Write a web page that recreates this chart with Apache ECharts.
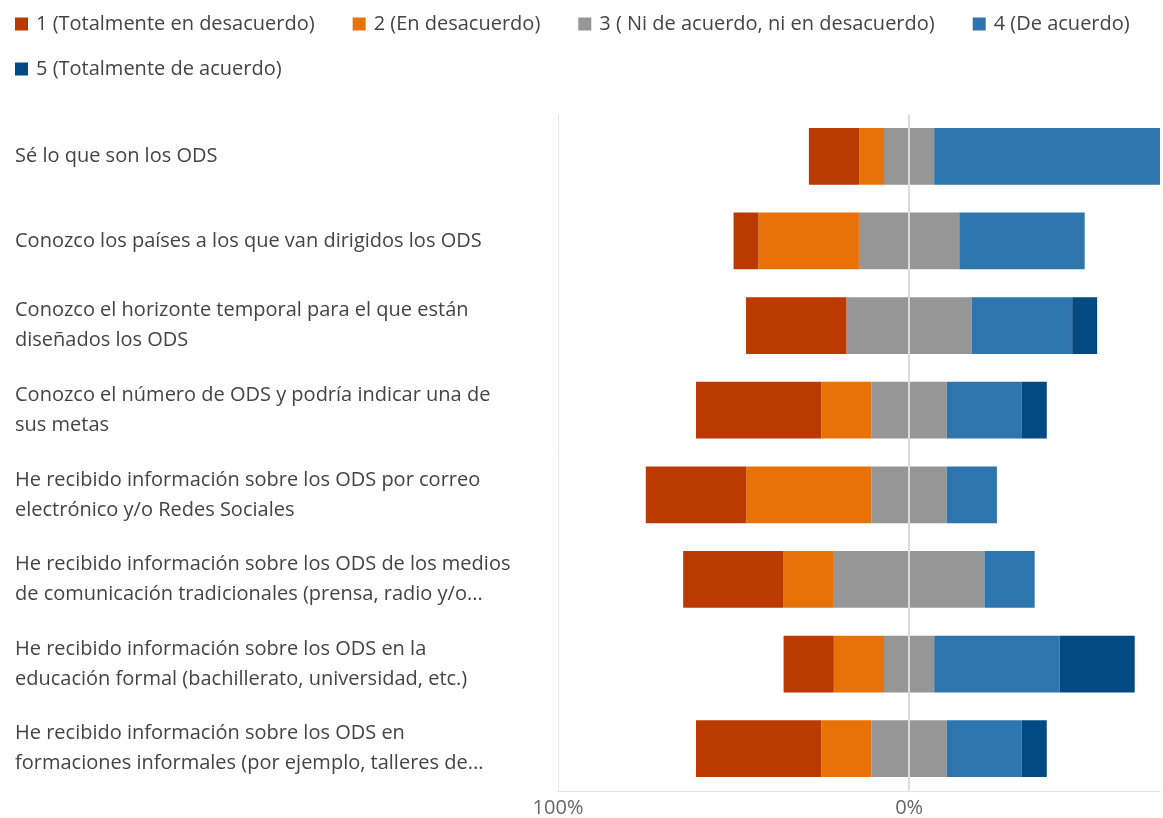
<!DOCTYPE html>
<html>
<head>
<meta charset="utf-8">
<script src="https://cdn.jsdelivr.net/npm/echarts@6/dist/echarts.min.js"></script>
<style>
html,body{margin:0;padding:0;background:#fff;}
#chart{width:1163px;height:818px;}
</style>
</head>
<body>
<div id="chart"></div>
<script>
var categories = [
  "Sé lo que son los ODS",
  "Conozco los países a los que van dirigidos los ODS",
  "Conozco el horizonte temporal para el que están\ndiseñados los ODS",
  "Conozco el número de ODS y podría indicar una de\nsus metas",
  "He recibido información sobre los ODS por correo\nelectrónico y/o Redes Sociales",
  "He recibido información sobre los ODS de los medios\nde comunicación tradicionales (prensa, radio y/o...",
  "He recibido información sobre los ODS en la\neducación formal (bachillerato, universidad, etc.)",
  "He recibido información sobre los ODS en\nformaciones informales (por ejemplo, talleres de..."
];
var seriesNames = [
  "1 (Totalmente en desacuerdo)",
  "2 (En desacuerdo)",
  "3 ( Ni de acuerdo, ni en desacuerdo)",
  "4 (De acuerdo)",
  "5 (Totalmente de acuerdo)"
];
var totalDesacuerdo = [14.3, 7.1, 28.6, 35.7, 28.6, 28.6, 14.3, 35.7];
var enDesacuerdo    = [7.1, 28.6, 0, 14.3, 35.7, 14.3, 14.3, 14.3];
var neutral         = [14.3, 28.6, 35.7, 21.4, 21.4, 42.9, 14.3, 21.4];
var deAcuerdo       = [64.3, 35.7, 28.6, 21.4, 14.3, 14.3, 35.7, 21.4];
var totalAcuerdo    = [0, 0, 7.1, 7.1, 0, 0, 21.4, 7.1];
var xTickLabels = ["100%", "0%"];

var colors = ["#BA3A02", "#E97208", "#969696", "#2E75AD", "#024A84"];
var FONT = "'Segoe UI', 'Open Sans', sans-serif";

function neg(a){ return a.map(function(v){ return -v; }); }
function half(a, s){ return a.map(function(v){ return s * v / 2; }); }

function bar(name, data, color, extra){
  var s = {
    name: name, type: 'bar', stack: 'likert', data: data,
    barCategoryGap: '33%',
    itemStyle: { color: color },
    emphasis: { disabled: true }
  };
  if (extra) for (var k in extra) s[k] = extra[k];
  return s;
}

var legendCommon = {
  left: 10, icon: 'rect', itemWidth: 13, itemHeight: 13, itemGap: 38,
  textStyle: { fontFamily: FONT, fontSize: 20, color: '#444', padding: [0, 0, 0, 3] }
};

var chart = echarts.init(document.getElementById('chart'), null, { renderer: 'canvas' });
chart.setOption({
  animation: false,
  color: colors,
  legend: [
    Object.assign({}, legendCommon, { top: 9, data: seriesNames.slice(0, 4) }),
    Object.assign({}, legendCommon, { top: 54, data: seriesNames.slice(4) })
  ],
  grid: { left: 558, right: 3, top: 114, bottom: 27, containLabel: false },
  xAxis: {
    type: 'value', min: -100, max: function(v){ return v.max; }, interval: 100,
    axisLine: { show: true, lineStyle: { color: '#e2e2e2' } },
    axisTick: { show: false },
    splitLine: { show: true, showMaxLine: false, lineStyle: { color: '#e6e6e6' } },
    axisLabel: {
      margin: 7, fontFamily: FONT, fontSize: 20, color: '#666',
      formatter: function(v){ return v === -100 ? xTickLabels[0] : (v === 0 ? xTickLabels[1] : ''); },
      showMaxLabel: false
    }
  },
  yAxis: {
    type: 'category', inverse: true, data: categories,
    axisLine: { show: false }, axisTick: { show: false }, splitLine: { show: false },
    axisLabel: { align: 'left', margin: 543, fontFamily: FONT, fontSize: 20, lineHeight: 30, color: '#444', padding: [10, 0, 0, 0] }
  },
  series: [
    bar(seriesNames[2], half(neutral, -1), colors[2]),
    bar(seriesNames[2], half(neutral, 1), colors[2]),
    bar(seriesNames[1], neg(enDesacuerdo), colors[1]),
    bar(seriesNames[0], neg(totalDesacuerdo), colors[0]),
    bar(seriesNames[3], deAcuerdo, colors[3]),
    bar(seriesNames[4], totalAcuerdo, colors[4], {
      markLine: {
        silent: true, symbol: 'none', label: { show: false },
        lineStyle: { color: '#dcdcdc', type: 'solid', width: 2 },
        data: [{ xAxis: 0 }], z: 10
      }
    })
  ]
});
</script>
</body>
</html>
